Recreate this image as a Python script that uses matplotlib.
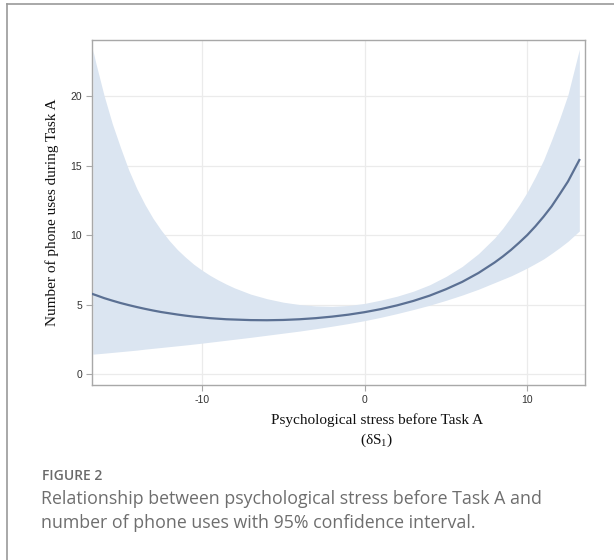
import matplotlib
matplotlib.use("Agg")
import matplotlib.pyplot as plt
from matplotlib.lines import Line2D

# data
stres = [-16.7, -16.5, -16, -15.5, -15, -14.5, -14, -13.5, -13, -12.5, -12, -11.5, -11,
         -10.5, -10, -9.5, -9, -8.5, -8, -7, -6, -5, -4, -3, -2, -1,
         0, 1, 2, 3, 4, 5, 6, 7, 8, 8.5, 9, 9.5, 10, 10.5, 11, 11.5, 12, 12.5, 13.2]
prediksi = [5.75, 5.67, 5.46, 5.28, 5.11, 4.96, 4.82, 4.69, 4.57, 4.46, 4.37, 4.28, 4.20,
            4.13, 4.08, 4.02, 3.98, 3.94, 3.92, 3.88, 3.87, 3.89, 3.94, 4.02, 4.13, 4.27,
            4.45, 4.67, 4.94, 5.26, 5.64, 6.10, 6.63, 7.27, 8.03, 8.46, 8.93, 9.45, 10.0,
            10.63, 11.32, 12.07, 12.95, 13.85, 15.4]
batas_bawah = [1.43, 1.45, 1.50, 1.555, 1.61, 1.665, 1.72, 1.79, 1.85, 1.91, 1.97, 2.03, 2.09,
               2.155, 2.22, 2.29, 2.36, 2.43, 2.50, 2.64, 2.79, 2.94, 3.09, 3.26, 3.44, 3.63,
               3.84, 4.08, 4.35, 4.64, 4.95, 5.30, 5.68, 6.10, 6.58, 6.82, 7.06, 7.34, 7.63,
               7.95, 8.28, 8.68, 9.10, 9.55, 10.29]
batas_atas = [23.3, 22.3, 20.0, 18.0, 16.3, 14.7, 13.35, 12.2, 11.2, 10.35, 9.6, 8.95, 8.4,
              7.9, 7.48, 7.1, 6.77, 6.47, 6.2, 5.75, 5.42, 5.17, 5.0, 4.9, 4.87, 4.93,
              5.08, 5.32, 5.60, 5.96, 6.42, 7.02, 7.74, 8.66, 9.80, 10.5, 11.30, 12.15, 13.10,
              14.2, 15.39, 16.85, 18.4, 20.1, 23.36]
xticks = [-10, 0, 10]
yticks = [0, 5, 10, 15, 20]

plt.rcParams["mathtext.fontset"] = "custom"
plt.rcParams["mathtext.rm"] = "Liberation Serif"
plt.rcParams["mathtext.it"] = "Liberation Serif:italic"
plt.rcParams["axes.unicode_minus"] = False

fig = plt.figure(figsize=(6.14, 5.6), dpi=100)
ax = fig.add_axes([91.7 / 614, 1 - 385 / 560, (584.7 - 91.7) / 614, (385 - 39.5) / 560])

# pita interval kepercayaan 95% dan garis prediksi
ax.fill_between(stres, batas_bawah, batas_atas, color="#dbe5f1", linewidth=0, zorder=2)
ax.plot(stres, prediksi, color="#5b7093", linewidth=1.6, zorder=3)

ax.set_xlim(-16.77, 13.53)
ax.set_ylim(-0.79, 24.07)
ax.set_xticks(xticks)
ax.set_yticks(yticks)
ax.grid(True, color="#ebebeb", linewidth=0.9, zorder=0)
ax.set_axisbelow(True)
for s in ax.spines.values():
    s.set_color("#a8a8a8")
    s.set_linewidth(1.0)
ax.tick_params(length=4, width=0.8, color="#a8a8a8", labelsize=7.5, labelcolor="#333333", pad=3)
for lab in ax.get_xticklabels() + ax.get_yticklabels():
    lab.set_fontfamily("Liberation Sans")

ax.set_ylabel("Number of phone uses during Task A", family="Liberation Serif",
              fontsize=11, color="#111111", labelpad=8)
fig.text(377 / 614, 1 - 420 / 560, "Psychological stress before Task A",
         family="Liberation Serif", fontsize=11, color="#111111", ha="center", va="center")
fig.text(377 / 614, 1 - 440 / 560, r"(δS$_1$)",
         family="Liberation Serif", fontsize=11, color="#111111", ha="center", va="center")

# keterangan gambar
fig.text(42 / 614, 1 - 476 / 560, "FIGURE 2", family="Open Sans", fontsize=10,
         fontweight="semibold", color="#6a6a6a", va="center")
fig.text(41 / 614, 1 - 499 / 560, "Relationship between psychological stress before Task A and",
         family="Open Sans", fontsize=12.8, color="#6e6e6e", va="center")
fig.text(41 / 614, 1 - 523 / 560, "number of phone uses with 95% confidence interval.",
         family="Open Sans", fontsize=12.8, color="#6e6e6e", va="center")

# bingkai luar
fig.add_artist(Line2D([7 / 614, 7 / 614], [0, 1 - 4 / 560], transform=fig.transFigure,
                      color="#9a9a9a", linewidth=1.2))
fig.add_artist(Line2D([7 / 614, 1], [1 - 4 / 560, 1 - 4 / 560], transform=fig.transFigure,
                      color="#9a9a9a", linewidth=1.2))

fig.savefig("out.png", dpi=100)
